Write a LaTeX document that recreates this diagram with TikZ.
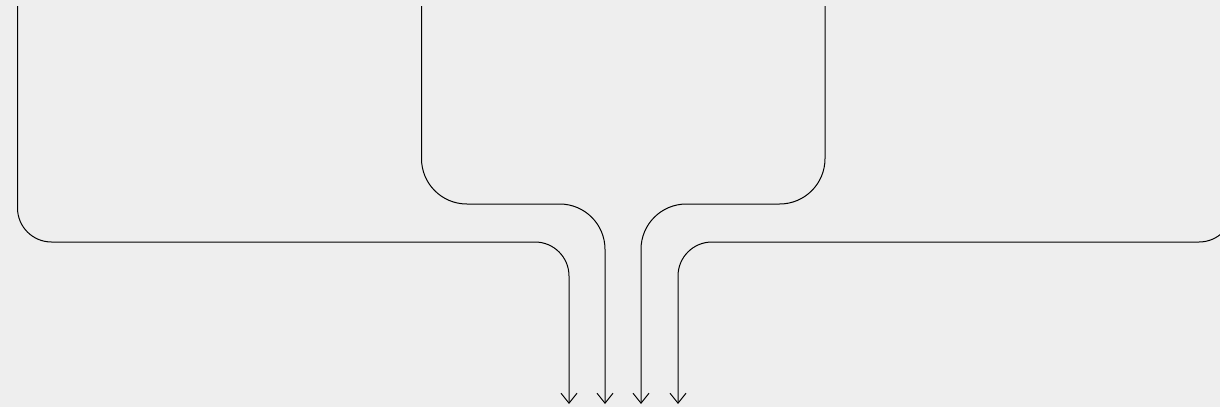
\documentclass[tikz,border=0pt]{standalone}
\usetikzlibrary{arrows.meta}

\definecolor{paper}{HTML}{EEEEEE}

\begin{document}
\begin{tikzpicture}[
    x=0.75pt, y=-0.75pt,
    flow/.style={draw=black, line width=0.75pt, -{Straight Barb[length=7.5pt, width=12pt, line width=0.75pt]}},
    wide/.style={rounded corners=34pt},
    tight/.style={rounded corners=25.5pt}
]
\fill[paper] (0,0) rectangle (1220,407);
\clip (0,0) rectangle (1220,407);

% sources at the top
\coordinate (srcA) at (17.5,6);
\coordinate (srcB) at (421.5,6);
\coordinate (srcC) at (825,6);
\coordinate (srcD) at (1233,6);

% sinks at the bottom
\coordinate (outA) at (569,404);
\coordinate (outB) at (605,404);
\coordinate (outC) at (641,404);
\coordinate (outD) at (678,404);

\draw[flow, tight] (srcA) -- (srcA |- 0,242) -- (outA |- 0,242) -- (outA);
\draw[flow, wide] (srcB) -- (srcB |- 0,204) -- (outB |- 0,204) -- (outB);
\draw[flow, wide] (srcC) -- (srcC |- 0,204) -- (outC |- 0,204) -- (outC);
\draw[flow, tight] (srcD) -- (srcD |- 0,242) -- (outD |- 0,242) -- (outD);
\end{tikzpicture}
\end{document}
